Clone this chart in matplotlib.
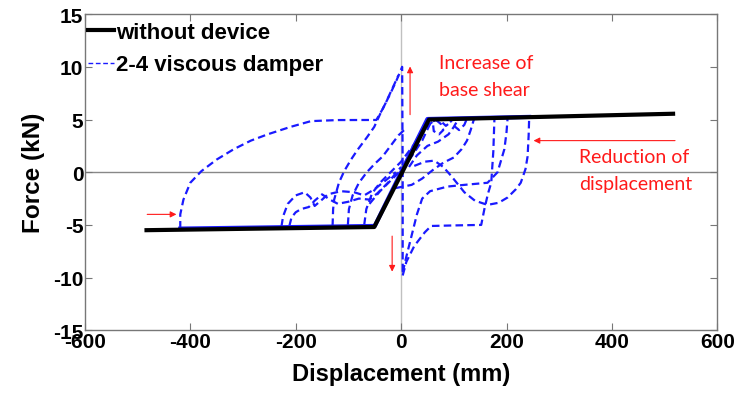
import matplotlib
matplotlib.use("Agg")
import matplotlib.pyplot as plt

# ---------------- data ----------------
x_ticks = [-600, -400, -200, 0, 200, 400, 600]
y_ticks = [-15, -10, -5, 0, 5, 10, 15]

# without device (bilinear backbone)
base_d = [-483, -51, 53, 516]
base_f = [-5.5, -5.2, 5.0, 5.55]

# 2-4 viscous damper hysteresis branches
elastic_d = [-419, -50, 0, 50, 243]
elastic_f = [-5.35, -5.1, 0.0, 5.05, 5.25]

big_d = [-419, -419, -413, -400, -379, -350, -317, -285, -253, -210, -171, -120, -47, -35, -20, -8, 2, 3, 3]
big_f = [-5.35, -4.0, -2.6, -1.0, 0.1, 1.2, 2.2, 3.0, 3.6, 4.3, 4.85, 4.95, 4.96, 6.0, 7.5, 8.8, 10.0, 0.0, -9.8]

flat_d = [3, 10, 25, 45, 57, 100, 152, 158, 165, 171, 175, 177]
flat_f = [-9.8, -8.5, -7.0, -5.7, -5.1, -5.05, -5.0, -3.5, -2.0, -1.0, 2.0, 5.0]

mid_d = [3, 10, 20, 30, 40, 55, 88, 120, 164, 183, 196, 200, 202]
mid_f = [-9.5, -8.0, -6.0, -4.0, -2.5, -1.8, -1.36, -1.2, -1.0, 0.0, 2.2, 3.8, 5.1]

right_d = [25, 45, 63, 80, 95, 120, 140, 164, 185, 202, 218, 227, 236, 240, 242, 243]
right_f = [0.6, 1.0, 1.1, 0.5, -0.35, -1.9, -2.7, -3.1, -2.9, -2.4, -1.6, -1.0, 0.3, 1.5, 3.5, 5.2]

loop5_d = [-10, 20, 40, 60, 80, 100, 115, 125, 132, 138]
loop5_f = [-1.5, -1.2, -0.6, 0.2, 0.9, 1.4, 2.2, 3.0, 4.0, 5.0]

loop6_d = [15, 30, 50, 70, 90, 100, 108]
loop6_f = [0.5, 1.6, 2.5, 2.9, 3.6, 4.3, 5.0]

loop7_d = [35, 45, 55, 65, 75, 80, 72, 62, 60, 70, 85, 95, 92, 98, 110, 120, 125]
loop7_f = [3.4, 4.0, 4.6, 5.0, 4.6, 4.0, 3.6, 3.9, 4.8, 5.1, 4.4, 4.8, 5.1, 4.5, 4.0, 4.5, 5.1]

wave1_d = [-227, -224, -215, -200, -183, -172, -164, -150, -139, -114, -89, -70, -50, -30, -10]
wave1_f = [-5.15, -4.2, -3.0, -2.2, -1.9, -2.4, -3.2, -2.6, -2.1, -1.8, -1.9, -2.2, -1.6, -0.8, 0.0]

wave2_d = [-212, -208, -200, -190, -175, -164, -150, -135, -120, -100, -80, -60, -45, -25, 0]
wave2_f = [-5.1, -4.3, -3.8, -3.5, -3.3, -2.7, -2.1, -2.6, -3.0, -2.8, -2.5, -2.6, -2.0, -1.0, 0.5]

rise1_d = [-130, -129, -127, -118, -108, -95, -83, -65, -51, -40, -30, -18, -5]
rise1_f = [-5.1, -3.5, -2.6, -1.0, 0.1, 1.2, 2.1, 3.3, 4.3, 5.5, 6.5, 7.8, 9.2]

rise2_d = [-101, -99, -92, -80, -65, -50, -35, -20, -5, 10]
rise2_f = [-5.0, -3.5, -2.2, -1.0, 0.0, 0.8, 1.5, 2.5, 3.5, 4.2]

rise3_d = [-70, -66, -55, -40, -20, 0, 15, 30]
rise3_f = [-5.0, -3.5, -2.0, -1.0, 0.0, 1.0, 2.0, 3.0]

cross_d = [-60, -40, -20, 0, 20, 40, 55]
cross_f = [-3.0, -1.8, -0.8, 0.2, 1.5, 3.0, 4.6]

# annotations
note1 = "Increase of\nbase shear"
note2 = "Reduction of\ndisplacement"

# ---------------- plot ----------------
plt.rcParams['font.family'] = ['Liberation Sans', 'DejaVu Sans']
plt.rcParams['font.weight'] = 'bold'
plt.rcParams['axes.unicode_minus'] = False

fig = plt.figure(figsize=(7.38, 4.10), dpi=100)
ax = fig.add_axes([0.115, 0.192, 0.857, 0.771])

ax.axhline(0, color='#888888', lw=1.0, zorder=1)
ax.axvline(0, color='#c0c0c0', lw=1.0, zorder=1)

blue = '#1a1aff'
dash = dict(color=blue, lw=1.6, ls=(0, (3.4, 1.9)), zorder=2)

ax.plot(base_d, base_f, color='black', lw=3, zorder=3, label='without device')
ax.plot(big_d, big_f, label='2-4 viscous damper', **dash)
ax.plot(elastic_d, elastic_f, color=blue, lw=3, zorder=2.5)
for d, f in [(flat_d, flat_f), (mid_d, mid_f), (right_d, right_f), (loop5_d, loop5_f),
             (loop6_d, loop6_f), (loop7_d, loop7_f), (wave1_d, wave1_f), (wave2_d, wave2_f),
             (rise1_d, rise1_f), (rise2_d, rise2_f), (rise3_d, rise3_f), (cross_d, cross_f)]:
    ax.plot(d, f, **dash)

ax.set_xlim(-600, 600)
ax.set_ylim(-15, 15)
ax.set_xticks(x_ticks)
ax.set_xticklabels([str(v) for v in x_ticks], fontweight='bold', fontsize=15)
ax.set_yticks(y_ticks)
ax.set_yticklabels([str(v) for v in y_ticks], fontweight='bold', fontsize=15)
ax.tick_params(direction='in', top=True, right=True, length=5, width=0.8,
               color='#777777', pad=1)
for s in ax.spines.values():
    s.set_color('#777777')
    s.set_linewidth(1.0)

ax.set_xlabel('Displacement (mm)', fontsize=17, fontweight='bold', labelpad=8)
ax.set_ylabel('Force (kN)', fontsize=17.5, fontweight='bold', labelpad=6)

leg = ax.legend(loc='upper left', bbox_to_anchor=(0.0, 0.985), frameon=False,
                handlelength=1.15, handletextpad=0.1, borderaxespad=0.0, borderpad=0.15,
                labelspacing=0.5, prop={'weight': 'bold', 'size': 16})
leg.get_lines()[1].set_linewidth(1.0)

red = '#ff1a1a'
arrow = dict(arrowstyle='-|>', color=red, lw=0.8, mutation_scale=9)
ax.annotate('', xy=(17, 10.3), xytext=(17, 5.2), arrowprops=arrow)
ax.annotate('', xy=(-17, -9.7), xytext=(-17, -5.8), arrowprops=arrow)
ax.annotate('', xy=(-421, -4.0), xytext=(-487, -4.0), arrowprops=arrow)
ax.annotate('', xy=(246, 3.0), xytext=(525, 3.0), arrowprops=arrow)

ax.text(72, 9.1, note1, color=red, fontsize=14, fontweight='normal',
        family=['Lato', 'DejaVu Sans'], ha='left', va='center', linespacing=1.7)
ax.text(337, 0.2, note2, color=red, fontsize=14, fontweight='normal',
        family=['Lato', 'DejaVu Sans'], ha='left', va='center', linespacing=1.7)

fig.savefig('out.png', dpi=100)
